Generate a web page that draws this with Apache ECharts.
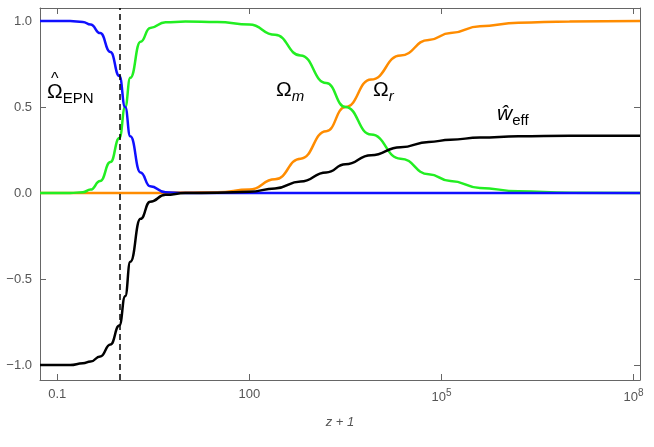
<!DOCTYPE html>
<html><head><meta charset="utf-8">
<script src="https://cdn.jsdelivr.net/npm/echarts@6/dist/echarts.min.js"></script>
<style>html,body{margin:0;padding:0;background:#fff}#c{width:654px;height:447px}</style>
</head><body><div id="c"></div>
<script>
// x values are log10(z+1)
const xTicks = [-1, 2, 5, 8];
const xTickLabels = ['0.1', '100', '10{sup|5}', '10{sup|8}'];
const yTicks = [-1, -0.5, 0, 0.5, 1];
const dashedX = -0.03;

const logX =   [-1.27, -0.8, -0.6, -0.48, -0.33, -0.17, -0.03, 0.06, 0.14, 0.3, 0.45, 0.69, 1, 1.5, 2, 2.4, 2.8, 3.2, 3.5, 3.9, 4.36, 4.8, 5.14, 5.6, 6.2, 7, 8.1];
const omegaEPN = [1, 1, 0.995, 0.98, 0.93, 0.82, 0.68, 0.5, 0.33, 0.12, 0.04, 0.005, 0, 0, 0, 0, 0, 0, 0, 0, 0, 0, 0, 0, 0, 0, 0];
const omegaM =   [0, 0, 0.005, 0.02, 0.07, 0.18, 0.32, 0.5, 0.67, 0.88, 0.96, 0.993, 0.997, 0.995, 0.98, 0.92, 0.8, 0.64, 0.5, 0.34, 0.2, 0.11, 0.07, 0.03, 0.01, 0.002, 0];
const omegaR =   [0, 0, 0, 0, 0, 0, 0, 0, 0, 0, 0, 0.002, 0.003, 0.005, 0.02, 0.08, 0.2, 0.36, 0.5, 0.66, 0.8, 0.89, 0.93, 0.97, 0.99, 0.998, 1];
const wEff =     [-1, -1, -0.99, -0.98, -0.95, -0.88, -0.77, -0.6, -0.4, -0.15, -0.05, -0.01, 0, 0.002, 0.007, 0.027, 0.067, 0.12, 0.167, 0.22, 0.267, 0.297, 0.31, 0.323, 0.33, 0.333, 0.333];

const pairs = ys => logX.map((x, i) => [x, ys[i]]);
const line = (ys, color) => ({ type: 'line', data: pairs(ys), smooth: 0.5, smoothMonotone: 'x', showSymbol: false,
  lineStyle: { color, width: 2.5 }, z: 3 });

const chart = echarts.init(document.getElementById('c'));
const font = 'Liberation Sans';
const axisCol = '#666';
chart.setOption({
  animation: false,
  grid: { left: 40, right: 14, top: 8, bottom: 67 },
  xAxis: [{
    type: 'value', min: -1.27, max: 8.1,
    axisLine: { onZero: false, lineStyle: { color: axisCol } },
    axisTick: { inside: true, length: 6, customValues: xTicks, lineStyle: { color: axisCol } },
    axisLabel: { customValues: xTicks, color: '#555', fontFamily: font, fontSize: 13,
      formatter: v => xTickLabels[xTicks.indexOf(Math.round(v))],
      rich: { sup: { fontSize: 10, fontFamily: font, color: '#555', padding: [0, 0, 8, 0] } } },
    splitLine: { show: false },
    name: 'z + 1', nameLocation: 'middle', nameGap: 36,
    nameTextStyle: { color: '#555', fontStyle: 'italic', fontFamily: font, fontSize: 13 }
  }, {
    type: 'value', position: 'top', min: -1.27, max: 8.1,
    axisLine: { onZero: false, lineStyle: { color: axisCol } },
    axisTick: { inside: true, length: 6, customValues: xTicks, lineStyle: { color: axisCol } },
    axisLabel: { show: false }, splitLine: { show: false }
  }],
  yAxis: [{
    type: 'value', min: -1.087, max: 1.076,
    axisLine: { show: true, onZero: false, lineStyle: { color: axisCol } },
    axisTick: { show: true, inside: true, length: 6, customValues: yTicks, lineStyle: { color: axisCol } },
    axisLabel: { customValues: yTicks, color: '#555', fontFamily: font, fontSize: 13,
      formatter: v => v.toFixed(1).replace('-', '−') },
    splitLine: { show: false }
  }, {
    type: 'value', position: 'right', min: -1.087, max: 1.076,
    axisLine: { show: true, onZero: false, lineStyle: { color: axisCol } },
    axisTick: { show: true, inside: true, length: 6, customValues: yTicks, lineStyle: { color: axisCol } },
    axisLabel: { show: false }, splitLine: { show: false }
  }],
  series: [
    line(omegaR, '#ff8c00'),
    line(omegaM, '#22ee22'),
    line(omegaEPN, '#1010ff'),
    line(wEff, '#000000'),
    { type: 'line', data: [], markLine: { silent: true, symbol: 'none', label: { show: false },
        lineStyle: { color: '#000', type: [6, 4], width: 1.5 }, data: [{ xAxis: dashedX }] } }
  ],
  graphic: [
    { type: 'text', left: 51, top: 72, style: { text: '^', fill: '#000', font: '16px ' + font } },
    { type: 'text', left: 47, top: 82, style: { text: 'Ω{s|EPN}', fill: '#000', font: '21px ' + font,
        rich: { s: { fontSize: 15, fontFamily: font, padding: [12, 0, 0, 0] } } } },
    { type: 'text', left: 276, top: 80, style: { text: 'Ω{s|m}', fill: '#000', font: '21px ' + font,
        rich: { s: { fontSize: 15, fontStyle: 'italic', fontFamily: font, padding: [12, 0, 0, 0] } } } },
    { type: 'text', left: 373, top: 80, style: { text: 'Ω{s|r}', fill: '#000', font: '21px ' + font,
        rich: { s: { fontSize: 15, fontStyle: 'italic', fontFamily: font, padding: [12, 0, 0, 0] } } } },
    { type: 'text', left: 497, top: 104, style: { text: 'ŵ{s|eff}', fill: '#000', font: 'italic 21px ' + font,
        rich: { s: { fontSize: 15, fontStyle: 'normal', fontFamily: font, padding: [12, 0, 0, 0] } } } }
  ]
});
</script></body></html>
